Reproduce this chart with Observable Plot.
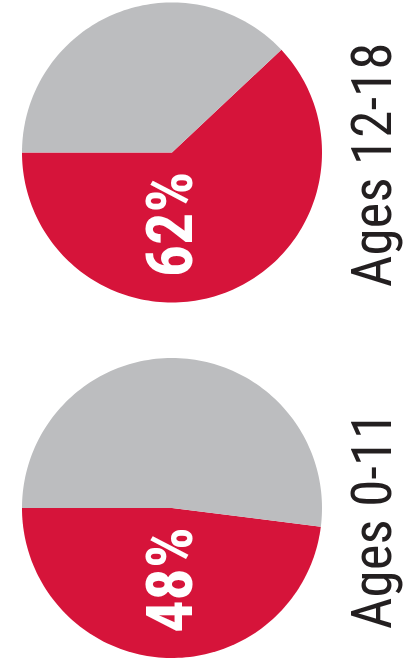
<!DOCTYPE html>
<html><head><meta charset="utf-8">
<script src="https://cdn.jsdelivr.net/npm/d3@7"></script>
<script src="https://cdn.jsdelivr.net/npm/@observablehq/plot@0.6"></script>
<style>html,body{margin:0;padding:0;background:#fff;} svg{display:block}</style>
</head><body><div id="chart"></div>
<script>
// Data
const groups = ["Ages 12-18", "Ages 0-11"];
const shares = [62, 48]; // percent (red slice)
const parts = ["share", "rest"];
const colors = ["#d6143a", "#bcbdbf"];

// Layout (radius units)
const centers = [0, 2.37];
const steps = 240;

const slices = [];
groups.forEach((g, i) => {
  const cy = centers[i];
  const a0 = Math.PI;
  const a1 = Math.PI - shares[i] / 100 * 2 * Math.PI;
  const a2 = -Math.PI;
  [[a0, a1, "share"], [a1, a2, "rest"]].forEach(([s, e, part]) => {
    slices.push({x: 0, y: cy, id: g + part, part});
    const n = Math.max(2, Math.ceil(Math.abs(s - e) / (2 * Math.PI) * steps));
    for (let k = 0; k <= n; k++) {
      const t = s + (e - s) * k / n;
      slices.push({x: Math.cos(t), y: cy + Math.sin(t), id: g + part, part});
    }
  });
});

const labelRows = groups.map((g, i) => ({g, pct: shares[i] + "%", cy: centers[i]}));
const narrow = "'Liberation Sans Narrow', 'Roboto Condensed', 'DejaVu Sans Condensed', sans-serif";

const chart = Plot.plot({
  width: 403,
  height: 668,
  margin: 0,
  x: {domain: [-1.1433, 1.5433], range: [0, 403], axis: null},
  y: {domain: [-1.0133, 3.44], range: [0, 668], axis: null},
  color: {domain: parts, range: colors},
  style: {background: "#fff"},
  marks: [
    Plot.line(slices, {x: "x", y: "y", z: "id", fill: "part", stroke: "none", curve: "linear-closed"}),
    Plot.text(labelRows, {
      x: () => 0, y: d => d.cy + 0.48, text: "pct", rotate: -90,
      fill: "white", fontSize: 64, fontWeight: "bold", fontFamily: narrow,
      textAnchor: "middle", lineAnchor: "middle"
    }),
    Plot.text(labelRows, {
      x: () => 1.343, y: d => d.cy + 0.083, text: "g", rotate: -90,
      fill: "#231f20", fontSize: 55, fontFamily: narrow,
      textAnchor: "middle", lineAnchor: "middle"
    })
  ]
});
document.getElementById("chart").append(chart);
</script>
</body></html>
